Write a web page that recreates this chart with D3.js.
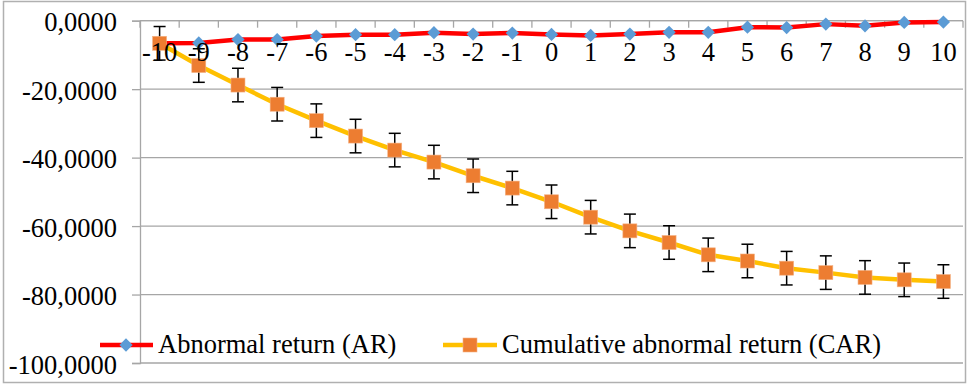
<!DOCTYPE html>
<html>
<head>
<meta charset="utf-8">
<script src="https://cdn.jsdelivr.net/npm/d3@7"></script>
<style>
  html, body { margin: 0; padding: 0; background: #fff; }
  svg { display: block; }
</style>
</head>
<body>
<svg id="chart" width="970" height="386" font-family="Liberation Serif"></svg>
<script>
const categories = [-10,-9,-8,-7,-6,-5,-4,-3,-2,-1,0,1,2,3,4,5,6,7,8,9,10];
const arValues  = [-6.6,-6.5,-5.5,-5.5,-4.5,-4.1,-4.1,-3.5,-3.9,-3.6,-4.0,-4.3,-3.9,-3.4,-3.4,-1.9,-2.0,-1.0,-1.5,-0.5,-0.4];
const carValues = [-6.6,-13.1,-18.8,-24.4,-29.2,-33.7,-37.8,-41.3,-45.3,-48.9,-52.9,-57.4,-61.4,-64.8,-68.4,-70.2,-72.3,-73.6,-75.0,-75.7,-76.2];
const carError  = 4.9;
const yTicks = [0,-20,-40,-60,-80,-100];
const yTickLabels = ["0,0000","-20,0000","-40,0000","-60,0000","-80,0000","-100,0000"];
const seriesNames = ["Abnormal return (AR)", "Cumulative abnormal return (CAR)"];

const FONT = "Liberation Serif";
const FS = 26.5;
const svg = d3.select("#chart");
const plot = {left: 140, right: 963, top: 20.7, bottom: 363};

// outer border
svg.append("rect").attr("x", 3.5).attr("y", 1.5).attr("width", 962).attr("height", 381)
  .attr("fill", "#fff").attr("stroke", "#b0b0b0").attr("stroke-width", 1.5);

const x = d3.scaleBand().domain(categories).range([plot.left, plot.right]).paddingInner(0).paddingOuter(0);
const cx = d => x(d) + x.bandwidth() / 2;
const y = d3.scaleLinear().domain([-100, 0]).range([plot.bottom, plot.top]);

// gridlines
svg.append("g").selectAll("line").data(yTicks).join("line")
  .attr("x1", plot.left).attr("x2", plot.right)
  .attr("y1", d => y(d)).attr("y2", d => y(d))
  .attr("stroke", "#a6a6a6").attr("stroke-width", 1.3);

// y axis
const yAxis = svg.append("g").attr("transform", `translate(${plot.left},0)`)
  .call(d3.axisLeft(y).tickValues(yTicks).tickSize(8).tickPadding(15)
    .tickFormat(d => yTickLabels[yTicks.indexOf(d)]));
yAxis.attr("font-family", FONT).attr("font-size", FS);
yAxis.select(".domain").attr("stroke", "#a6a6a6").attr("stroke-width", 1.3);
yAxis.selectAll(".tick line").attr("stroke", "#a6a6a6").attr("stroke-width", 1.3);
yAxis.selectAll(".tick text").attr("font-size", FS).attr("font-family", FONT).attr("fill", "#000").attr("dy", null).attr("y", 10);

// x axis (at y=0) with ticks at band boundaries
const xAxisG = svg.append("g").attr("transform", `translate(0,${y(0)})`);
xAxisG.append("line").attr("x1", plot.left).attr("x2", plot.right).attr("y1", 0).attr("y2", 0)
  .attr("stroke", "#a6a6a6").attr("stroke-width", 1.3);
const bounds = categories.map(c => x(c)).concat([x(categories[categories.length-1]) + x.bandwidth()]);
xAxisG.selectAll("line.tk").data(bounds).join("line").attr("class", "tk")
  .attr("x1", d => d).attr("x2", d => d).attr("y1", 0).attr("y2", 7)
  .attr("stroke", "#a6a6a6").attr("stroke-width", 1.3);

// AR line
const line = d3.line().x((d, i) => cx(categories[i])).y(d => y(d));
svg.append("path").datum(arValues).attr("d", line)
  .attr("fill", "none").attr("stroke", "#ff0000").attr("stroke-width", 4.5).attr("stroke-linejoin", "round");
const diamond = d3.symbol().type(d3.symbolSquare).size(88);
svg.append("g").selectAll("path").data(arValues).join("path")
  .attr("d", diamond())
  .attr("transform", (d, i) => `translate(${cx(categories[i])},${y(d)}) rotate(45)`)
  .attr("fill", "#5b9bd5");

// CAR line
svg.append("path").datum(carValues).attr("d", line)
  .attr("fill", "none").attr("stroke", "#ffc000").attr("stroke-width", 4.5).attr("stroke-linejoin", "round");

// error bars
const eb = svg.append("g").attr("stroke", "#000").attr("stroke-width", 1.5);
carValues.forEach((v, i) => {
  const px = cx(categories[i]);
  const y1 = y(v + carError), y2 = y(v - carError);
  eb.append("line").attr("x1", px).attr("x2", px).attr("y1", y1).attr("y2", y2);
  eb.append("line").attr("x1", px - 6).attr("x2", px + 6).attr("y1", y1).attr("y2", y1);
  eb.append("line").attr("x1", px - 6).attr("x2", px + 6).attr("y1", y2).attr("y2", y2);
});

// CAR markers
svg.append("g").selectAll("rect").data(carValues).join("rect")
  .attr("x", (d, i) => cx(categories[i]) - 7).attr("y", d => y(d) - 7)
  .attr("width", 14).attr("height", 14)
  .attr("fill", "#ed7d31").attr("stroke", "#f4b183").attr("stroke-width", 0.6);

// x labels (on top)
svg.append("g").selectAll("text").data(categories).join("text")
  .attr("x", d => cx(d)).attr("y", 61)
  .attr("text-anchor", "middle").attr("font-size", FS).attr("font-family", FONT).attr("fill", "#000")
  .text(d => String(d));

// legend
const leg = svg.append("g").attr("font-family", FONT).attr("font-size", FS);
leg.append("line").attr("x1", 100).attr("x2", 153).attr("y1", 345).attr("y2", 345)
  .attr("stroke", "#ff0000").attr("stroke-width", 4.5);
leg.append("path").attr("d", diamond()).attr("transform", "translate(126,345) rotate(45)").attr("fill", "#5b9bd5");
leg.append("text").attr("x", 158).attr("y", 353).attr("font-family", FONT).attr("font-size", FS).text(seriesNames[0]);

leg.append("line").attr("x1", 443).attr("x2", 497).attr("y1", 345).attr("y2", 345)
  .attr("stroke", "#ffc000").attr("stroke-width", 4.5);
leg.append("rect").attr("x", 463).attr("y", 338).attr("width", 14).attr("height", 14)
  .attr("fill", "#ed7d31").attr("stroke", "#f4b183").attr("stroke-width", 0.6);
leg.append("text").attr("x", 502).attr("y", 353).attr("font-family", FONT).attr("font-size", FS).text(seriesNames[1]);
</script>
</body>
</html>
